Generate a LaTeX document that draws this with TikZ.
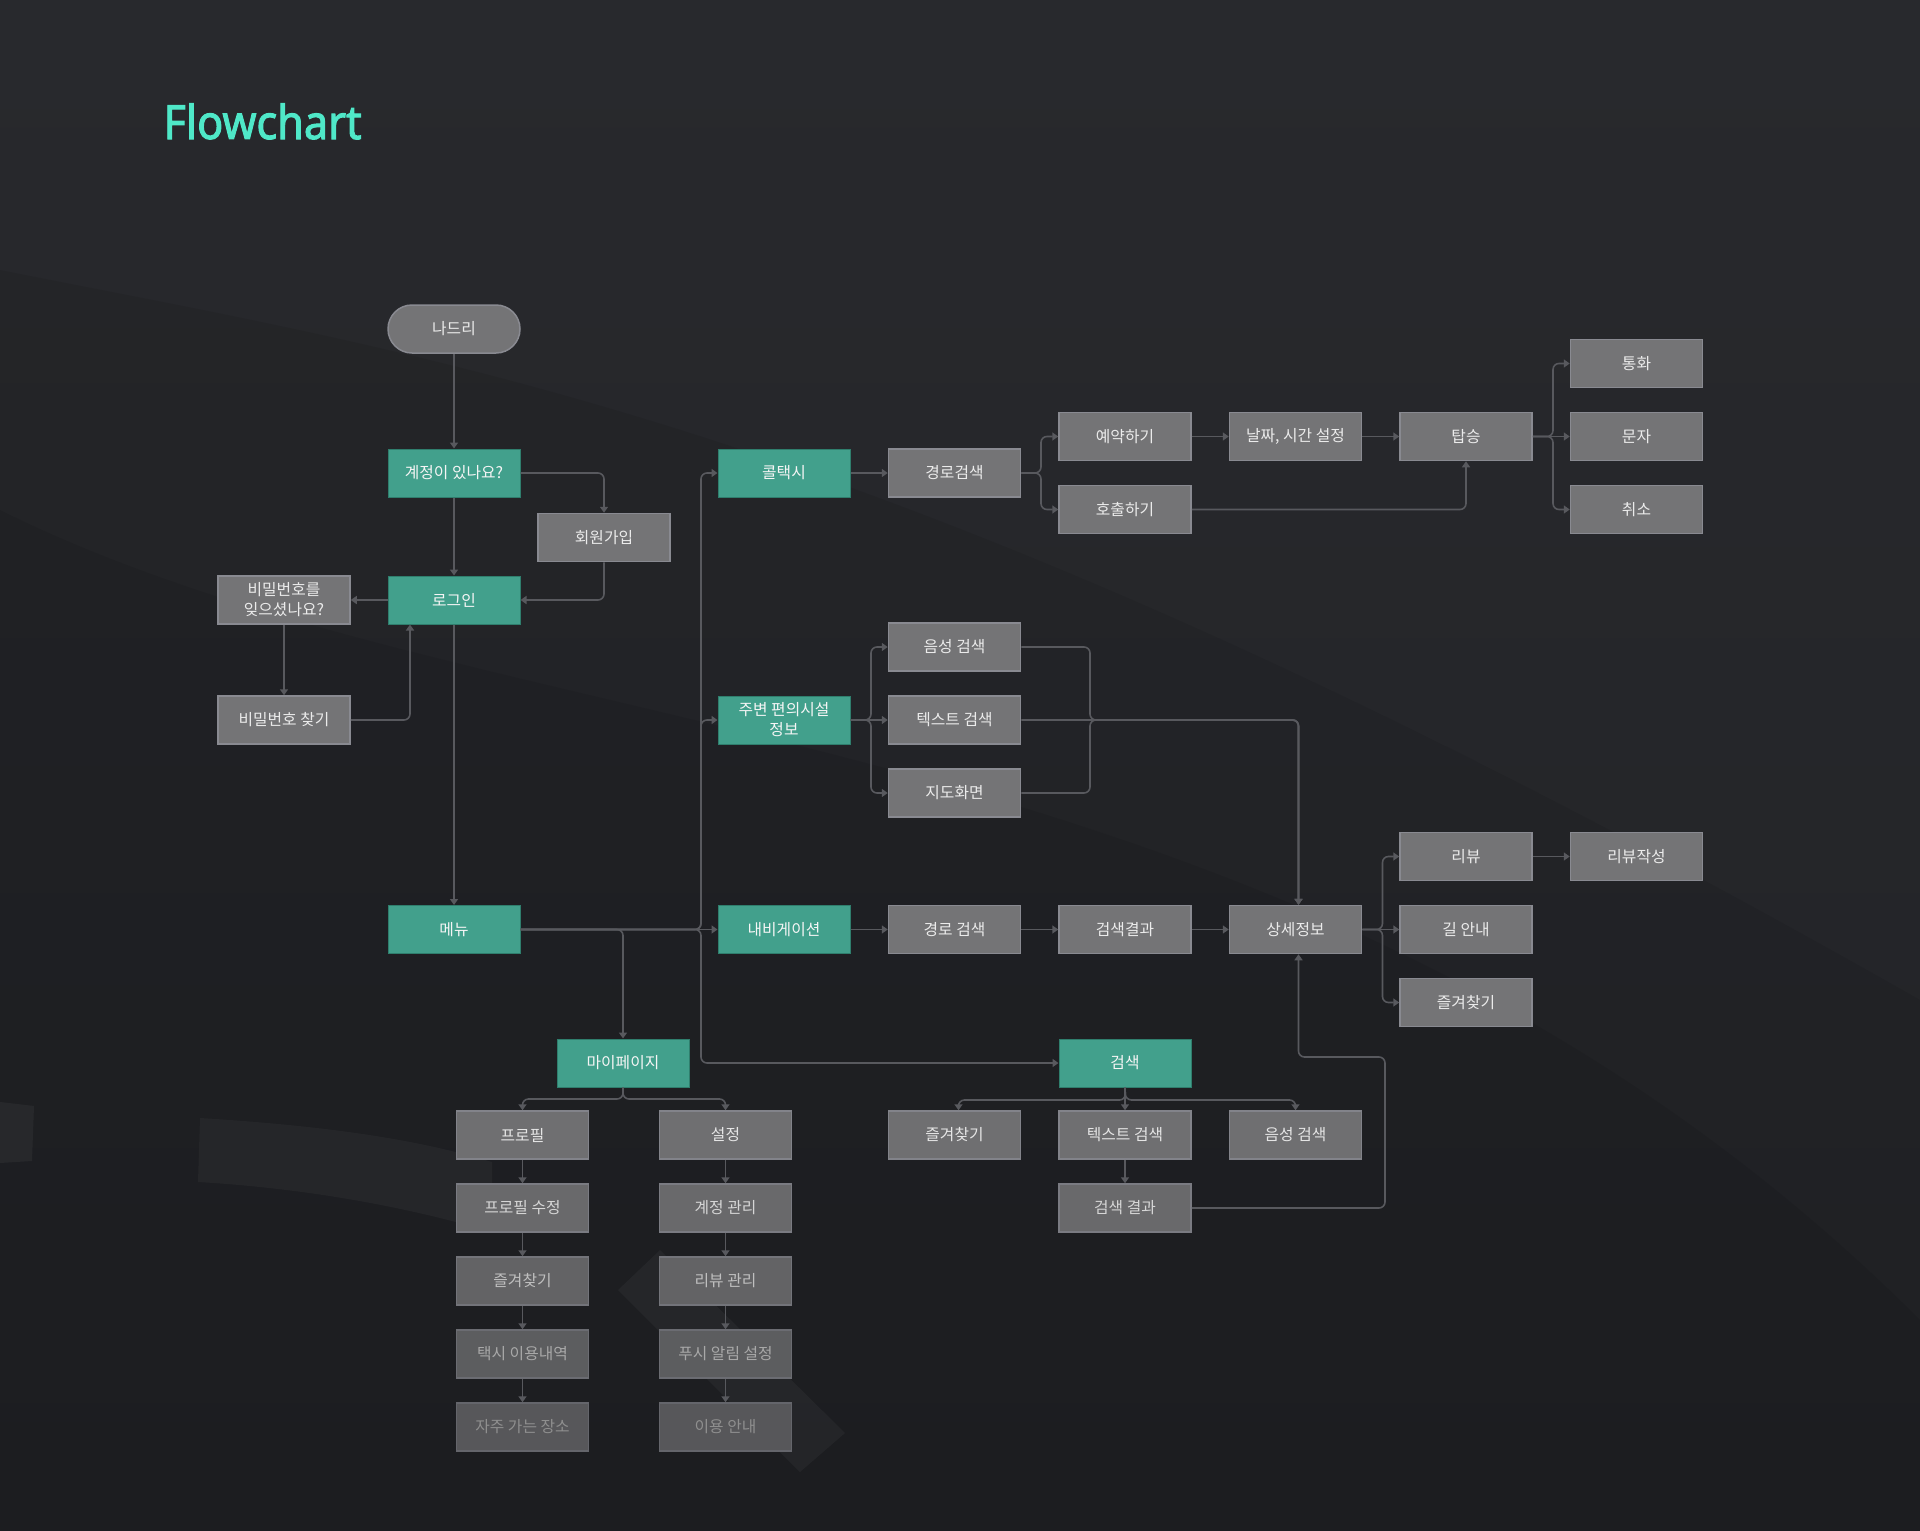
\documentclass[tikz,border=0pt]{standalone}
\usepackage{xcolor}
\usepackage{graphicx}
\usepackage{fontspec}
\usepackage{tikz}
\usetikzlibrary{arrows.meta, calc, positioning}
\setmainfont{Noto Sans CJK KR}
\newfontfamily\titlefont[FakeBold=2.2]{Noto Sans}
\definecolor{bgdark}{HTML}{28292D}
\definecolor{bgdeep}{HTML}{222326}
\definecolor{bglight}{HTML}{313235}
\definecolor{boxgray}{HTML}{747476}
\definecolor{boxline}{HTML}{898A91}
\definecolor{tealbox}{HTML}{42A08C}
\definecolor{tealline}{HTML}{2F7E6D}
\definecolor{linkgray}{HTML}{58595E}
\definecolor{titlegreen}{HTML}{4FE8C8}

\begin{document}
\begin{tikzpicture}[x=1pt, y=-1pt,
	flowbox/.style={rectangle, minimum width=132pt, minimum height=48pt, line width=1.5pt, inner sep=2pt, align=center, font=\fontsize{15.8}{20}\selectfont},
	gbox/.style={flowbox, fill=boxgray, draw=boxline, text=white!92!black},
	tbox/.style={flowbox, fill=tealbox, draw=tealline, line width=1pt, text=white!96!black},
	dimbox/.style 2 args={flowbox, fill=boxgray!#1!bgdark, draw=boxline!#1!bgdark, text=white!#2!black},
	pill/.style={gbox, rounded corners=24pt},
	link/.style={draw=linkgray, line width=1.6pt, rounded corners=6pt, -{Triangle[length=6pt,width=8pt]}}]
				\pgfmathsetmacro{\colA}{784}
				\pgfmathsetmacro{\colgap}{170.5}
				\pgfmathsetmacro{\rowgap}{73}
				\useasboundingbox (0,0) rectangle (1920,1531);
				\shade[top color=bgdark, bottom color=bgdeep] (0,0) rectangle (1920,1531);
				\fill[black, opacity=0.07] (0,270) .. controls (450,360) and (900,420) .. (1920,1000) -- (1920,1531) -- (0,1531) -- cycle;
				\fill[black, opacity=0.07] (0,510) .. controls (500,760) and (1300,700) .. (1920,1320) -- (1920,1531) -- (0,1531) -- cycle;
				\fill[bglight, opacity=0.5] (0,1102) -- (34,1106) -- (32,1161) -- (0,1163) -- cycle;
				\fill[bglight, opacity=0.4] (200,1118) .. controls (330,1126) and (420,1140) .. (492,1162) -- (492,1232) .. controls (400,1205) and (300,1188) .. (198,1182) -- cycle;
				\fill[bglight, opacity=0.4] (618,1290) -- (660,1250) -- (845,1433) -- (800,1472) -- cycle;
				
				\node[anchor=base west, text=titlegreen, font=\titlefont\fontsize{47}{50}\selectfont] (title) at (160,139) {\scalebox{0.92}[1]{Flowchart}};
				
				\node[pill] (nadri) at (454,329) {나드리};
				\node[tbox] (account) at (454,473) {계정이 있나요?};
				\node[gbox] (signup) at (604,537.5) {회원가입};
				\node[tbox] (login) at (454,600) {로그인};
				\node[gbox] (forgot) at (284,600) {비밀번호를\\잊으셨나요?};
				\node[gbox] (findpw) at (284,720) {비밀번호 찾기};
				\node[tbox] (menu) at (454,929.5) {메뉴};
				
				\node[tbox] (calltaxi) at (\colA,473) {콜택시};
				\node[gbox] (route) at (\colA+\colgap,473) {경로검색};
				\node[gbox] (reserve) at (\colA+2*\colgap,473-\rowgap/2) {예약하기};
				\node[gbox] (callnow) at (\colA+2*\colgap,473+\rowgap/2) {호출하기};
				\node[gbox] (datetime) at (\colA+3*\colgap,473-\rowgap/2) {날짜, 시간 설정};
				\node[gbox] (board) at (\colA+4*\colgap,473-\rowgap/2) {탑승};
				\node[gbox] (phone) at (\colA+5*\colgap,473-1.5*\rowgap) {통화};
				\node[gbox] (sms) at (\colA+5*\colgap,473-\rowgap/2) {문자};
				\node[gbox] (cancel) at (\colA+5*\colgap,473+\rowgap/2) {취소};
				
				\node[tbox] (nearby) at (\colA,720) {주변 편의시설\\정보};
				\node[gbox] (voice) at (\colA+\colgap,720-\rowgap) {음성 검색};
				\node[gbox] (textsearch) at (\colA+\colgap,720) {텍스트 검색};
				\node[gbox] (mapview) at (\colA+\colgap,720+\rowgap) {지도화면};
				
				\node[tbox] (navi) at (\colA,929.5) {내비게이션};
				\node[gbox] (naviroute) at (\colA+\colgap,929.5) {경로 검색};
				\node[gbox] (result) at (\colA+2*\colgap,929.5) {검색결과};
				\node[gbox] (detail) at (\colA+3*\colgap,929.5) {상세정보};
				\node[gbox] (review) at (\colA+4*\colgap,929.5-\rowgap) {리뷰};
				\node[gbox] (writereview) at (\colA+5*\colgap,929.5-\rowgap) {리뷰작성};
				\node[gbox] (guide) at (\colA+4*\colgap,929.5) {길 안내};
				\node[gbox] (favorite) at (\colA+4*\colgap,929.5+\rowgap) {즐겨찾기};
				
				\node[tbox] (search) at (\colA+2*\colgap,1063) {검색};
				\node[dimbox={93}{90}] (sfav) at (\colA+\colgap,1135) {즐겨찾기};
				\node[dimbox={93}{90}] (stext) at (\colA+2*\colgap,1135) {텍스트 검색};
				\node[dimbox={93}{90}] (svoice) at (\colA+3*\colgap,1135) {음성 검색};
				\node[dimbox={85}{84}] (sresult) at (\colA+2*\colgap,1208) {검색 결과};
				
				\node[tbox] (mypage) at (623,1063) {마이페이지};
				\node[dimbox={93}{90}] (profile) at (522.5,1135) {프로필};
				\node[dimbox={85}{84}] (editprofile) at (522.5,1135+\rowgap) {프로필 수정};
				\node[dimbox={77}{75}] (myfav) at (522.5,1135+2*\rowgap) {즐겨찾기};
				\node[dimbox={69}{66}] (history) at (522.5,1135+3*\rowgap) {택시 이용내역};
				\node[dimbox={62}{56}] (places) at (522.5,1135+4*\rowgap) {자주 가는 장소};
				\node[dimbox={93}{90}] (settings) at (725.5,1135) {설정};
				\node[dimbox={85}{84}] (accountmgmt) at (725.5,1135+\rowgap) {계정 관리};
				\node[dimbox={77}{75}] (reviewmgmt) at (725.5,1135+2*\rowgap) {리뷰 관리};
				\node[dimbox={69}{66}] (push) at (725.5,1135+3*\rowgap) {푸시 알림 설정};
				\node[dimbox={62}{56}] (usage) at (725.5,1135+4*\rowgap) {이용 안내};
				
				\coordinate (spine) at (701,929.5);
				\coordinate (split1) at (1041,473);
				\coordinate (split2) at (1553,436);
				\coordinate (split3) at (871,720);
				\coordinate (merge) at (1090,720);
				\coordinate (split4) at (1382.5,929.5);
				\coordinate (fork) at (1125.5,1100);
				\coordinate (fork2) at (623,1099);
				\coordinate (back) at (1385,1057);
				
				\draw[link] (nadri) -- (account);
				\draw[link] (account.east) -| (signup.north);
				\draw[link] (account) -- (login);
				\draw[link] (signup.south) |- (login.east);
				\draw[link] (login) -- (forgot);
				\draw[link] (forgot) -- (findpw);
				\draw[link] (findpw.east) -| ([xshift=-44pt]login.south);
				\draw[link] (login) -- (menu);
				
				\draw[link] (menu.east) -| (spine |- calltaxi) -- (calltaxi.west);
				\draw[link] (menu.east) -| (spine |- nearby) -- (nearby.west);
				\draw[link] (menu) -- (navi);
				\draw[link] (menu.east) -| (spine |- search) -- (search.west);
				\draw[link] (menu.east) -| (mypage.north);
				
				\draw[link] (calltaxi) -- (route);
				\draw[link] (route.east) -| (split1 |- reserve) -- (reserve.west);
				\draw[link] (route.east) -| (split1 |- callnow) -- (callnow.west);
				\draw[link] (reserve) -- (datetime);
				\draw[link] (datetime) -- (board);
				\draw[link] (callnow.east) -| (board.south);
				\draw[link] (board.east) -| (split2 |- phone) -- (phone.west);
				\draw[link] (board) -- (sms);
				\draw[link] (board.east) -| (split2 |- cancel) -- (cancel.west);
				
				\draw[link] (nearby.east) -| (split3 |- voice) -- (voice.west);
				\draw[link] (nearby) -- (textsearch);
				\draw[link] (nearby.east) -| (split3 |- mapview) -- (mapview.west);
				\draw[link] (voice.east) -| (merge) -| ([xshift=3pt]detail.north);
				\draw[link] (textsearch.east) -| ([xshift=3pt]detail.north);
				\draw[link] (mapview.east) -| (merge) -| ([xshift=3pt]detail.north);
				
				\draw[link] (navi) -- (naviroute);
				\draw[link] (naviroute) -- (result);
				\draw[link] (result) -- (detail);
				\draw[link] (detail.east) -| (split4 |- review) -- (review.west);
				\draw[link] (detail) -- (guide);
				\draw[link] (detail.east) -| (split4 |- favorite) -- (favorite.west);
				\draw[link] (review) -- (writereview);
				
				\draw[link] (search.south) -- (fork) -| ([xshift=4pt]sfav.north);
				\draw[link] (search) -- (stext);
				\draw[link] (search.south) -- (fork) -| (svoice.north);
				\draw[link] (stext) -- (sresult);
				\draw[link] (sresult.east) -| (back) -| ([xshift=3pt]detail.south);
				
				\draw[link] (mypage.south) -- (fork2) -| (profile.north);
				\draw[link] (mypage.south) -- (fork2) -| (settings.north);
				\foreach \a/\b in {profile/editprofile, editprofile/myfav, myfav/history, history/places, settings/accountmgmt, accountmgmt/reviewmgmt, reviewmgmt/push, push/usage}
					\draw[link] (\a) -- (\b);
\end{tikzpicture}
\end{document}
